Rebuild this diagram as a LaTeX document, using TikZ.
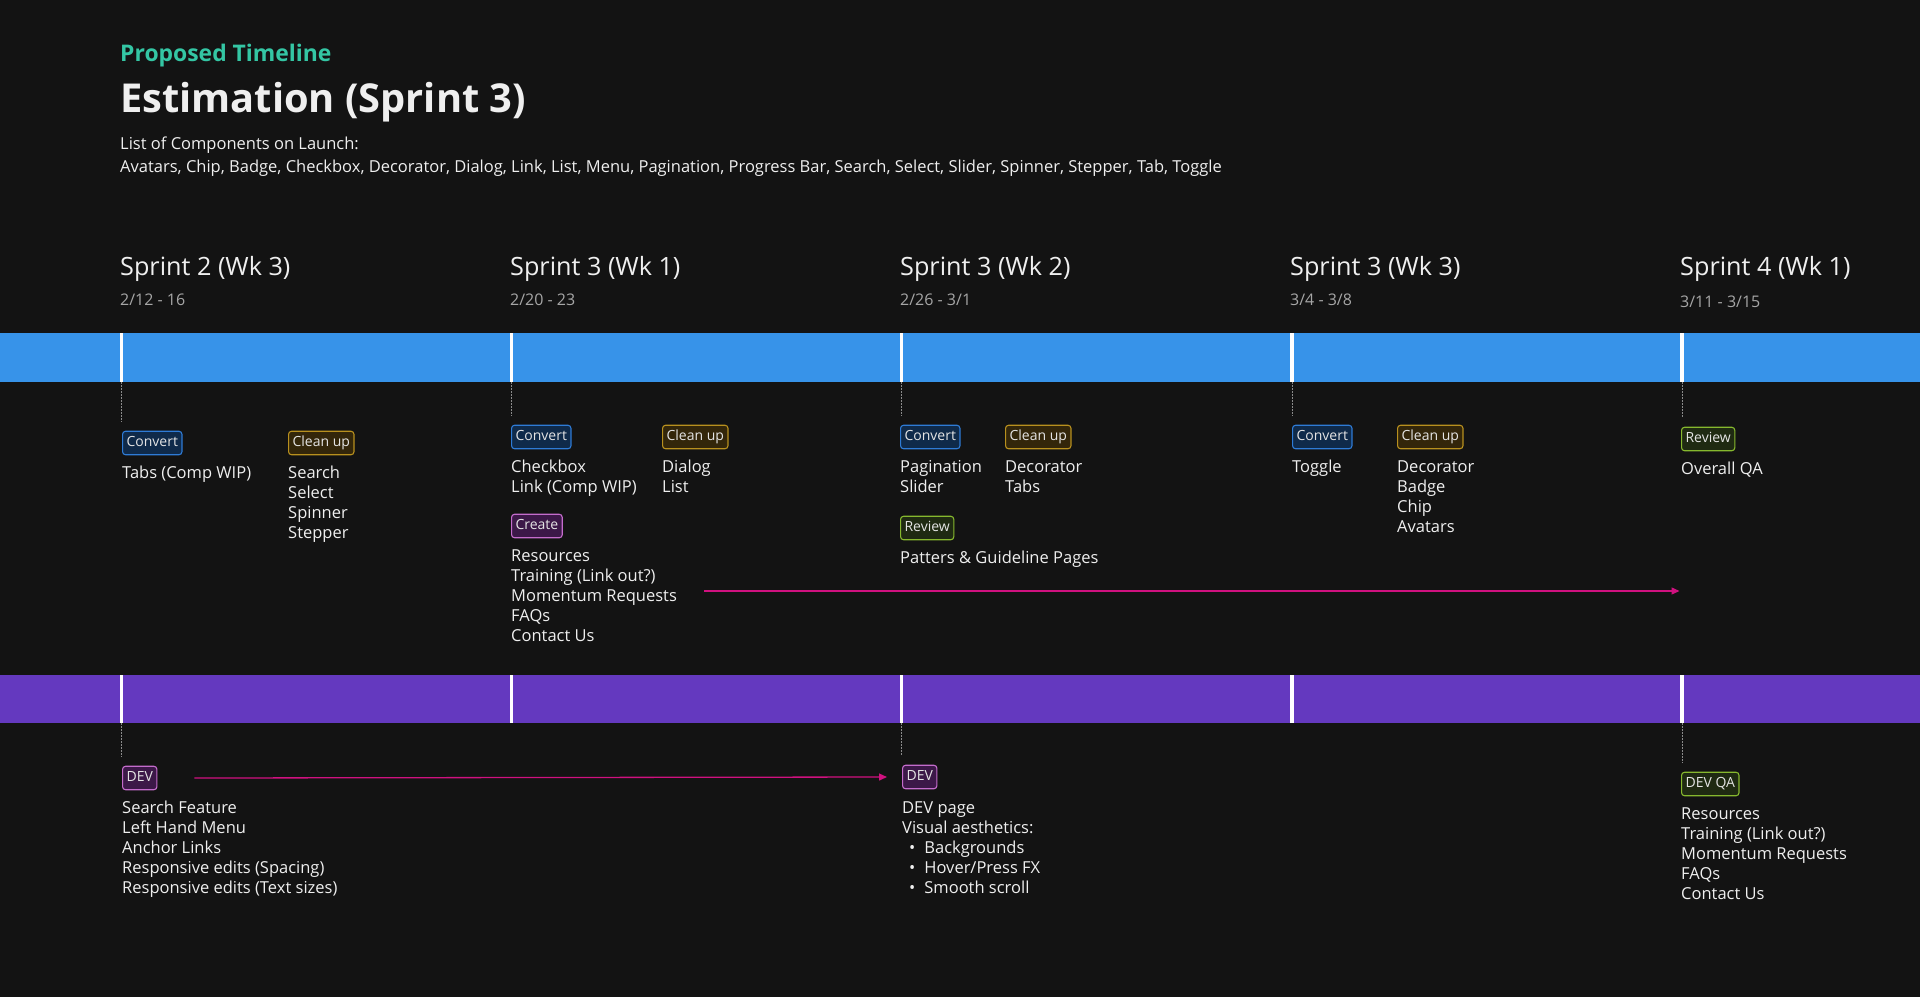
\documentclass[tikz,border=0pt]{standalone}
\usepackage{fontspec}
\setmainfont{Open Sans}
\usetikzlibrary{arrows.meta,calc}
\definecolor{bg}{HTML}{131313}
\definecolor{barblue}{HTML}{3793E9}
\definecolor{barpurple}{HTML}{6439BF}
\definecolor{teal}{HTML}{34C6A4}
\definecolor{txt}{HTML}{EFEFEF}
\definecolor{datec}{HTML}{A6A6A6}
\definecolor{badgetxt}{HTML}{E4E4E4}
\definecolor{cvf}{HTML}{0F2A4A}\definecolor{cvd}{HTML}{2E7BD6}
\definecolor{clf}{HTML}{33260A}\definecolor{cld}{HTML}{B8901E}
\definecolor{crf}{HTML}{3C1848}\definecolor{crd}{HTML}{C46CCC}
\definecolor{rvf}{HTML}{1F2A12}\definecolor{rvd}{HTML}{86B82E}
\definecolor{arrowc}{HTML}{D0117F}
\definecolor{dotc}{HTML}{8A8A8A}
\begin{document}
\begin{tikzpicture}[x=1pt,y=-1pt,
  every node/.style={inner sep=0pt, text=txt},
  body/.style={font=\fontsize{16.5}{20}\selectfont, align=left},
  line/.style={body, anchor=mid west},
  list/.style={body, anchor=north west},
  sprint/.style={font=\fontsize{25.2}{28}\selectfont, anchor=mid west},
  datel/.style={font=\fontsize{16}{18}\selectfont, anchor=mid west, text=datec},
  badge/.style={draw, rounded corners=3pt, line width=1.1pt, inner xsep=4pt, inner ysep=0pt,
     minimum height=23.5pt, text height=10pt, text depth=2.9pt,
     font=\fontsize{14}{16}\selectfont, anchor=west, text=badgetxt},
  convert/.style={badge, draw=cvd, fill=cvf},
  clean/.style={badge, draw=cld, fill=clf},
  create/.style={badge, draw=crd, fill=crf},
  review/.style={badge, draw=rvd, fill=rvf},
  sep/.style={fill=white},
  dotline/.style={draw=dotc, line width=0.8pt, dash pattern=on 1.5pt off 1.5pt},
  parrow/.style={draw=arrowc, line width=1.3pt, -{Triangle[length=8pt,width=7pt]}},
]
\useasboundingbox (0,0) rectangle (1920,997);
\fill[bg] (0,0) rectangle (1920,997);

% header
\node[anchor=mid west, font=\fontsize{22.9}{26}\selectfont\bfseries, text=teal] (kicker) at (120,59) {Proposed Timeline};
\node[anchor=mid west, font=\fontsize{39.8}{46}\selectfont\bfseries] (title) at (120,110) {Estimation (Sprint 3)};
\node[anchor=mid west, font=\fontsize{16.5}{20}\selectfont] (listhead) at (120,147) {List of Components on Launch:};
\node[anchor=mid west, font=\fontsize{16.5}{20}\selectfont] (listbody) at (120,170) {Avatars, Chip, Badge, Checkbox, Decorator, Dialog, Link, List, Menu, Pagination, Progress Bar, Search, Select, Slider, Spinner, Stepper, Tab, Toggle};

% sprint headers
\node[sprint] (sp1) at (120,273) {Sprint 2 (Wk 3)};
\node[datel] (d1) at (120,303) {2/12 - 16};
\node[sprint] (sp2) at (510,273) {Sprint 3 (Wk 1)};
\node[datel] (d2) at (510,303) {2/20 - 23};
\node[sprint] (sp3) at (900,273) {Sprint 3 (Wk 2)};
\node[datel] (d3) at (900,303) {2/26 - 3/1};
\node[sprint] (sp4) at (1290,273) {Sprint 3 (Wk 3)};
\node[datel] (d4) at (1290,303) {3/4 - 3/8};
\node[sprint] (sp5) at (1680,273) {Sprint 4 (Wk 1)};
\node[datel] (d5) at (1680,305) {3/11 - 3/15};

% bars
\fill[barblue] (0,333) rectangle (1920,382);
\fill[barpurple] (0,675) rectangle (1920,723);
\foreach \x in {121.5,511.5,901.5,1292,1682}{
  \fill[sep] (\x-1.8,333) rectangle (\x+1.8,382);
  \fill[sep] (\x-1.8,675) rectangle (\x+1.8,723);
}
\coordinate (s1) at (121.5,382);
\coordinate (s2) at (511.5,382);
\coordinate (s3) at (901.5,382);
\coordinate (s4) at (1292,382);
\coordinate (s5) at (1682,382);
\coordinate (p1) at (121.5,723);
\coordinate (p3) at (901.5,723);
\coordinate (p5) at (1682,723);

% column 1 top
\node[convert] (c1conv) at (122,443) {Convert};
\node[clean] (c1clean) at (288,443) {Clean up};
\node[line] (c1t) at (122,476) {Tabs (Comp WIP)};
\node[list] (c1l) at (288,464) {\strut Search\\Select\\Spinner\\Stepper};

% column 2 top
\node[convert] (c2conv) at (511,437) {Convert};
\node[clean] (c2clean) at (662,437) {Clean up};
\node[list] (c2a) at (511,458) {\strut Checkbox\\Link (Comp WIP)};
\node[list] (c2b) at (662,458) {\strut Dialog\\List};
\node[create] (c2create) at (511,526) {Create};
\node[list] (c2c) at (511,547) {\strut Resources\\Training (Link out?)\\Momentum Requests\\FAQs\\Contact Us};

% column 3 top
\node[convert] (c3conv) at (900,437) {Convert};
\node[clean] (c3clean) at (1005,437) {Clean up};
\node[list] (c3a) at (900,458) {\strut Pagination\\Slider};
\node[list] (c3b) at (1005,458) {\strut Decorator\\Tabs};
\node[review] (c3rev) at (900,528) {Review};
\node[line] (c3c) at (900,561) {Patters \& Guideline Pages};

% column 4 top
\node[convert] (c4conv) at (1292,437) {Convert};
\node[clean] (c4clean) at (1397,437) {Clean up};
\node[line] (c4a) at (1292,470) {Toggle};
\node[list] (c4b) at (1397,458) {\strut Decorator\\Badge\\Chip\\Avatars};

% column 5 top
\node[review] (c5rev) at (1681,439) {Review};
\node[line] (c5a) at (1681,472) {Overall QA};

% dotted lines top
\draw[dotline] (s1) -- ($(s1 |- c1conv.north)+(0,-9)$);
\draw[dotline] (s2) -- ($(s2 |- c2conv.north)+(0,-9)$);
\draw[dotline] (s3) -- ($(s3 |- c3conv.north)+(0,-9)$);
\draw[dotline] (s4) -- ($(s4 |- c4conv.north)+(0,-9)$);
\draw[dotline] (s5) -- ($(s5 |- c5rev.north)+(0,-9)$);

% top arrow
\coordinate (ta) at (704,591);
\draw[parrow, shorten >=2.5pt] (ta) -- (ta -| s5);

% bottom
\node[create] (dev1) at (122,778) {DEV};
\node[list] (dev1l) at (122,799) {\strut Search Feature\\Left Hand Menu\\Anchor Links\\Responsive edits (Spacing)\\Responsive edits (Text sizes)};
\node[create] (dev3) at (902,777) {DEV};
\node[list] (dev3l) at (902,799) {\strut DEV page\\Visual aesthetics:\\\hspace*{7pt}\textbullet\hspace{9pt}Backgrounds\\\hspace*{7pt}\textbullet\hspace{9pt}Hover/Press FX\\\hspace*{7pt}\textbullet\hspace{9pt}Smooth scroll};
\node[review] (devqa) at (1681,784) {DEV QA};
\node[list] (devqal) at (1681,805) {\strut Resources\\Training (Link out?)\\Momentum Requests\\FAQs\\Contact Us};

\draw[dotline] (p1) -- ($(p1 |- dev1.north)+(0,-9)$);
\draw[dotline] (p3) -- ($(p3 |- dev3.north)+(0,-9)$);
\draw[dotline] (p5) -- ($(p5 |- devqa.north)+(0,-9)$);

\draw[parrow] ([xshift=37pt]dev1.east) -- ([xshift=-15pt]dev3.west);
\end{tikzpicture}
\end{document}
